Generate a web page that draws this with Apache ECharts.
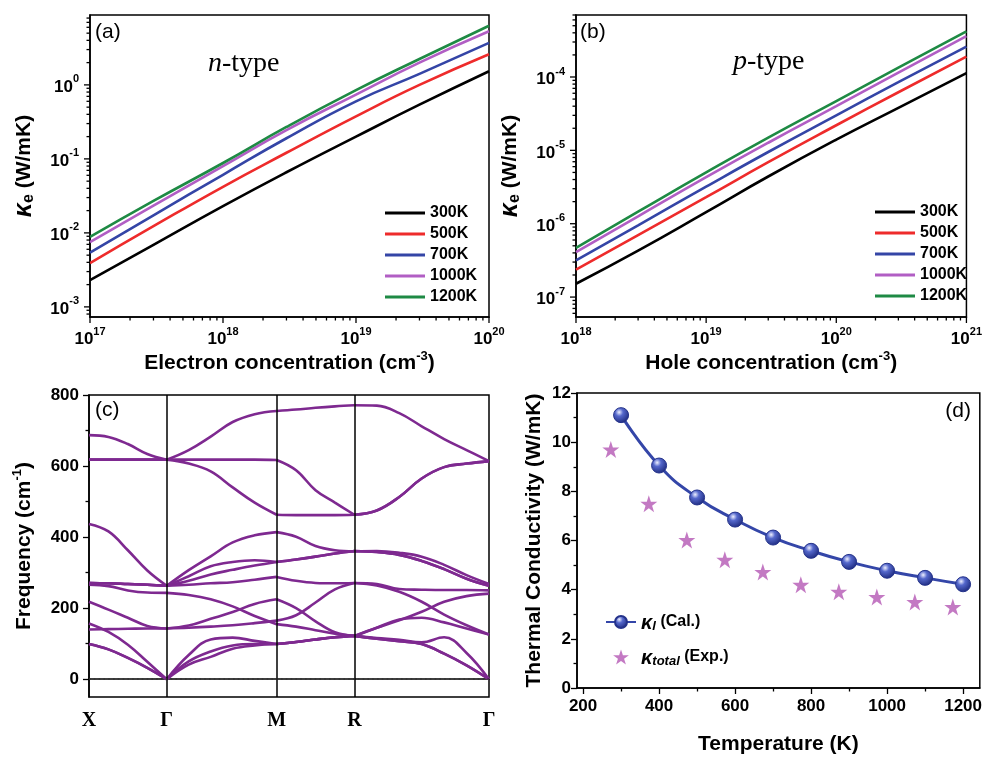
<!DOCTYPE html>
<html>
<head>
<meta charset="utf-8">
<script src="https://cdn.jsdelivr.net/npm/echarts@6.0.0/dist/echarts.min.js"></script>
<style>
html,body{margin:0;padding:0;background:#ffffff;}
#chart{width:985px;height:758px;}
</style>
</head>
<body>
<div id="chart"></div>
<script>
// ================= DATA =================
// Panels (a),(b): electronic thermal conductivity vs carrier concentration
const tempLabels = ['300K', '500K', '700K', '1000K', '1200K'];

const nConc   = [1e17, 3e17, 1e18, 3e18, 1e19, 3e19, 1e20];
const nKe300  = [2.3e-3, 6.9e-3, 0.023, 0.066, 0.20, 0.54, 1.53];
const nKe500  = [3.9e-3, 0.0123, 0.042, 0.121, 0.376, 1.0, 2.6];
const nKe700  = [5.4e-3, 0.0173, 0.061, 0.19, 0.60, 1.41, 3.7];
const nKe1000 = [7.5e-3, 0.0234, 0.080, 0.245, 0.74, 2.0, 5.3];
const nKe1200 = [8.8e-3, 0.027, 0.088, 0.27, 0.85, 2.24, 6.3];

const pConc   = [1e18, 3e18, 1e19, 3e19, 1e20, 3e20, 1e21];
const pKe300  = [1.52e-7, 4.3e-7, 1.44e-6, 4.4e-6, 1.4e-5, 3.8e-5, 1.13e-4];
const pKe500  = [2.36e-7, 7.0e-7, 2.3e-6, 6.9e-6, 2.2e-5, 6.2e-5, 1.9e-4];
const pKe700  = [3.16e-7, 9.5e-7, 3.2e-6, 9.5e-6, 3.0e-5, 8.5e-5, 2.6e-4];
const pKe1000 = [4.1e-7, 1.26e-6, 4.3e-6, 1.27e-5, 4.0e-5, 1.15e-4, 3.6e-4];
const pKe1200 = [4.7e-7, 1.46e-6, 5.0e-6, 1.49e-5, 4.7e-5, 1.34e-4, 4.2e-4];

// Panel (c): phonon dispersion along X-Γ-M-R-Γ
const kLabels = ['X', 'Γ', 'M', 'R', 'Γ'];
const kTicks  = [0, 0.5, 1.2071, 1.7071, 2.5731];
const kPath = [0, 0.125, 0.25, 0.375, 0.5,
               0.6414, 0.7828, 0.9243, 1.0657, 1.2071,
               1.3321, 1.4571, 1.5821, 1.7071,
               1.8514, 1.9958, 2.1401, 2.2845, 2.4288, 2.5731];
const band01 = [687, 682, 662, 634, 618, 645, 683, 724, 746, 755, 759, 764, 768, 771, 770, 749, 712, 676, 645, 614];
const band02 = [618, 618, 618, 618, 618, 618, 618, 618, 618, 617, 588, 532, 497, 463, 475, 513, 565, 597, 607, 614];
const band03 = [618, 618, 618, 618, 618, 607, 585, 540, 497, 463, 462, 462, 462, 463, 475, 513, 565, 597, 607, 614];
const band04 = [437, 416, 363, 306, 263, 307, 346, 385, 405, 414, 401, 375, 363, 360, 361, 356, 345, 322, 293, 268];
const band05 = [271, 270, 268, 266, 263, 290, 318, 330, 335, 330, 337, 345, 354, 361, 358, 350, 333, 310, 283, 263];
const band06 = [271, 270, 268, 266, 263, 277, 295, 308, 320, 330, 337, 345, 354, 361, 358, 350, 333, 310, 283, 263];
const band07 = [266, 262, 250, 244, 243, 237, 225, 205, 178, 155, 148, 138, 128, 122, 145, 166, 190, 218, 234, 241];
const band08 = [271, 270, 268, 266, 263, 266, 270, 273, 280, 288, 277, 271, 270, 271, 268, 254, 252, 251, 251, 250];
const band09 = [218, 196, 173, 150, 143, 151, 170, 189, 212, 225, 200, 163, 132, 121, 145, 168, 173, 160, 143, 126];
const band10 = [140, 141, 142, 143, 143, 145, 148, 152, 158, 165, 180, 216, 253, 271, 264, 246, 218, 182, 152, 126];
const band11 = [157, 133, 97, 49, 0, 68, 112, 117, 108, 99, 105, 112, 118, 122, 116, 111, 104, 118, 74, 0];
const band12 = [99, 84, 60, 32, 0, 50, 78, 95, 99, 99, 105, 112, 118, 122, 114, 107, 99, 72, 39, 0];
const band13 = [99, 84, 60, 32, 0, 41, 63, 86, 95, 99, 105, 112, 118, 122, 114, 107, 99, 72, 39, 0];
const freqLabels = [0, 200, 400, 600, 800];
const freqMinor  = [100, 300, 500, 700];

// Panel (d): thermal conductivity vs temperature
const tempCal  = [300, 400, 500, 600, 700, 800, 900, 1000, 1100, 1200];
const kappaCal = [11.1, 9.05, 7.75, 6.85, 6.12, 5.58, 5.13, 4.77, 4.48, 4.22];
const tempExp  = [273, 373, 473, 573, 673, 773, 873, 973, 1073, 1173];
const kappaExp = [9.7, 7.5, 6.02, 5.22, 4.72, 4.2, 3.92, 3.7, 3.5, 3.3];
const tempTicks = [200, 400, 600, 800, 1000, 1200];
const tempMinor = [300, 500, 700, 900, 1100];

// ================= STYLE / LAYOUT =================
const FONT = '"Liberation Sans", Arial, Helvetica, sans-serif';
const SERIF = '"Liberation Serif", "Times New Roman", serif';
const lineColors = ['#000000', '#EE2B2B', '#3445A6', '#B15EC4', '#1E8A44'];
const bandColor = '#7E2990';

const nXRange = [1e17, 1e20], nYRange = [7.3e-4, 8.8];
const pXRange = [1e18, 1e21], pYRange = [5.35e-8, 7.0e-4];

function decade(lo, hi) {
  const major = [], minor = [];
  for (let e = Math.floor(Math.log10(lo)); e <= Math.ceil(Math.log10(hi)); e++) {
    const b = Math.pow(10, e);
    if (b >= lo * 0.9999 && b <= hi * 1.0001) major.push(b);
    for (let m = 2; m <= 9; m++) { const v = m * b; if (v >= lo && v <= hi) minor.push(v); }
  }
  return { major, minor };
}
function supFmt(v) { return '{b|10}{s|' + Math.round(Math.log10(v)) + '}'; }
const supRich = {
  b: { fontFamily: FONT, fontWeight: 'bold', fontSize: 17, color: '#000', lineHeight: 22, verticalAlign: 'bottom' },
  s: { fontFamily: FONT, fontWeight: 'bold', fontSize: 11, color: '#000', lineHeight: 10, verticalAlign: 'top' }
};
const nameStyle = {
  fontFamily: FONT, fontWeight: 'bold', fontSize: 21, color: '#000', lineHeight: 26,
  rich: {
    s: { fontFamily: FONT, fontWeight: 'bold', fontSize: 13, color: '#000', lineHeight: 12, verticalAlign: 'top' },
    k: { fontFamily: FONT, fontWeight: 'bold', fontStyle: 'italic', fontSize: 25, color: '#000', lineHeight: 26, verticalAlign: 'bottom' },
    e: { fontFamily: FONT, fontWeight: 'bold', fontSize: 16, color: '#000', lineHeight: 12, verticalAlign: 'bottom' }
  }
};
const axLine = { show: true, lineStyle: { color: '#000', width: 1.5 } };
const noSplit = { show: false };
const plainNum = v => String(v);

function logAxis(gi, range, isX, name, gap, hideEnds) {
  const main = {
    gridIndex: gi, type: 'log', logBase: 10, min: range[0], max: range[1],
    position: isX ? 'bottom' : 'left',
    axisLine: axLine, axisTick: { show: false }, splitLine: noSplit,
    axisLabel: { formatter: supFmt, rich: supRich, margin: isX ? 9 : 11, interval: 0,
                 showMinLabel: !hideEnds, showMaxLabel: !hideEnds },
    name: name, nameLocation: 'middle', nameGap: gap, nameTextStyle: nameStyle
  };
  if (!isX) main.nameRotate = 90;
  return main;
}

function tickSeries(xi, yi, xr, yr) {
  const tx = decade(xr[0], xr[1]), ty = decade(yr[0], yr[1]);
  const data = [].concat(
    tx.major.map(v => [v, yr[0], 0]), tx.minor.map(v => [v, yr[0], 1]),
    ty.major.map(v => [xr[0], v, 2]), ty.minor.map(v => [xr[0], v, 3]));
  return {
    type: 'custom', xAxisIndex: xi, yAxisIndex: yi, silent: true, clip: false, z: 6,
    data: data,
    renderItem: function (params, api) {
      const p = api.coord([api.value(0), api.value(1)]);
      const kind = api.value(2);
      const len = (kind === 0 || kind === 2) ? 6 : 3.5;
      const shape = kind < 2 ? { x1: p[0], y1: p[1], x2: p[0], y2: p[1] + len }
                             : { x1: p[0], y1: p[1], x2: p[0] - len, y2: p[1] };
      return { type: 'line', shape: shape, style: { stroke: '#000', lineWidth: 1.3 } };
    }
  };
}

// ================= AXES =================
const grids = [
  { left: 90, top: 15, width: 399, height: 302 },
  { left: 576, top: 15, width: 398, height: 302 },
  { left: 89, top: 395, width: 400, height: 302 },
  { left: 577, top: 393, width: 406, height: 303 }
].map(g => Object.assign({ show: true, borderColor: '#000', borderWidth: 1.5, backgroundColor: 'transparent', containLabel: false }, g));

const xAxes = [
  logAxis(0, nXRange, true, 'Electron concentration (cm{s|-3})', 33, false),
  logAxis(1, pXRange, true, 'Hole concentration (cm{s|-3})', 33, false),
  { gridIndex: 2, type: 'value', min: 0, max: kTicks[4], position: 'bottom',
    axisLine: axLine, axisTick: { show: false }, splitLine: noSplit,
    axisLabel: { customValues: kTicks, margin: 14, color: '#000',
      fontFamily: SERIF, fontWeight: 'bold', fontSize: 20,
      formatter: function (v) {
        let best = 0;
        kTicks.forEach((t, i) => { if (Math.abs(t - v) < Math.abs(kTicks[best] - v)) best = i; });
        return kLabels[best];
      } } },
  { gridIndex: 3, type: 'value', min: 184, max: 1244, position: 'bottom',
    axisLine: axLine, splitLine: noSplit,
    axisTick: { customValues: tempTicks, length: 6, lineStyle: { color: '#000', width: 1.3 } },
    axisLabel: { customValues: tempTicks, formatter: plainNum, margin: 10, color: '#000', fontFamily: FONT, fontWeight: 'bold', fontSize: 17 },
    name: 'Temperature (K)', nameLocation: 'middle', nameGap: 43, nameTextStyle: nameStyle },
  { gridIndex: 3, type: 'value', min: 184, max: 1244, position: 'bottom',
    axisLine: { show: false }, splitLine: noSplit, axisLabel: { show: false },
    axisTick: { customValues: tempMinor, length: 3.5, lineStyle: { color: '#000', width: 1.3 } } }
];
const yAxes = [
  logAxis(0, nYRange, false, '{k|κ}{e|e} (W/mK)', 53, true),
  logAxis(1, pYRange, false, '{k|κ}{e|e} (W/mK)', 53, true),
  { gridIndex: 2, type: 'value', min: -50, max: 800, position: 'left',
    axisLine: axLine, splitLine: noSplit,
    axisTick: { customValues: freqLabels, length: 6, lineStyle: { color: '#000', width: 1.3 } },
    axisLabel: { customValues: freqLabels, formatter: plainNum, margin: 10, color: '#000', fontFamily: FONT, fontWeight: 'bold', fontSize: 17 },
    name: 'Frequency (cm{s|-1})', nameLocation: 'middle', nameRotate: 90, nameGap: 52, nameTextStyle: nameStyle },
  { gridIndex: 2, type: 'value', min: -50, max: 800, position: 'left',
    axisLine: { show: false }, splitLine: noSplit, axisLabel: { show: false },
    axisTick: { customValues: freqMinor, length: 3.5, lineStyle: { color: '#000', width: 1.3 } } },
  { gridIndex: 3, type: 'value', min: 0, max: 12, interval: 2, position: 'left',
    axisLine: axLine, splitLine: noSplit,
    axisTick: { length: 6, lineStyle: { color: '#000', width: 1.3 } },
    minorTick: { show: true, splitNumber: 2, length: 3.5, lineStyle: { color: '#000', width: 1.3 } },
    axisLabel: { formatter: plainNum, margin: 6, color: '#000', fontFamily: FONT, fontWeight: 'bold', fontSize: 17 },
    name: 'Thermal Conductivity (W/mK)', nameLocation: 'middle', nameRotate: 90, nameGap: 30, nameTextStyle: nameStyle }
];

// ================= SERIES =================
const series = [];
[nKe300, nKe500, nKe700, nKe1000, nKe1200].forEach((ys, i) => {
  series.push({ name: tempLabels[i], type: 'line', xAxisIndex: 0, yAxisIndex: 0,
    data: nConc.map((x, j) => [x, ys[j]]), symbol: 'none', smooth: 0.5,
    lineStyle: { color: lineColors[i], width: 2.6 }, itemStyle: { color: lineColors[i] }, z: 3 });
});
[pKe300, pKe500, pKe700, pKe1000, pKe1200].forEach((ys, i) => {
  series.push({ name: tempLabels[i], type: 'line', xAxisIndex: 1, yAxisIndex: 1,
    data: pConc.map((x, j) => [x, ys[j]]), symbol: 'none', smooth: 0.5,
    lineStyle: { color: lineColors[i], width: 2.6 }, itemStyle: { color: lineColors[i] }, z: 3 });
});
series.push(tickSeries(0, 0, nXRange, nYRange));
series.push(tickSeries(1, 1, pXRange, pYRange));

const bands = [band01, band02, band03, band04, band05, band06, band07, band08, band09, band10, band11, band12, band13];
const segBounds = [[0, 4], [4, 9], [9, 13], [13, 19]];
bands.forEach((b, bi) => {
  segBounds.forEach(([s, e], si) => {
    const ser = { type: 'line', xAxisIndex: 2, yAxisIndex: 2, silent: true,
      data: kPath.slice(s, e + 1).map((k, j) => [k, b[s + j]]),
      smooth: 0.4, symbol: 'none', lineStyle: { color: bandColor, width: 2.6 }, z: 3 };
    if (bi === 0 && si === 0) {
      ser.markLine = { silent: true, symbol: ['none', 'none'], label: { show: false }, animation: false,
        data: [
          { xAxis: kTicks[1], lineStyle: { color: '#000', width: 1.5, type: 'solid' } },
          { xAxis: kTicks[2], lineStyle: { color: '#000', width: 1.5, type: 'solid' } },
          { xAxis: kTicks[3], lineStyle: { color: '#000', width: 1.5, type: 'solid' } },
          { yAxis: 0, lineStyle: { color: '#333', width: 1.6, type: [1.6, 3.2] } }
        ] };
    }
    series.push(ser);
  });
});

const STAR = 'path://M50,2 L61.8,37.6 L99,37.6 L69,59.6 L80.4,95 L50,73.2 L19.6,95 L31,59.6 L1,37.6 L38.2,37.6 Z';
series.push({ name: 'kl', type: 'line', xAxisIndex: 3, yAxisIndex: 4,
  data: tempCal.map((t, i) => [t, kappaCal[i]]), smooth: 0.5,
  symbol: 'circle', symbolSize: 15, lineStyle: { color: '#3446A8', width: 3 },
  itemStyle: { color: { type: 'radial', x: 0.38, y: 0.32, r: 0.7,
      colorStops: [{ offset: 0, color: '#EEF0FF' }, { offset: 0.35, color: '#5568CC' }, { offset: 1, color: '#1D2A7E' }] },
    borderColor: '#24328A', borderWidth: 1 }, z: 4 });
series.push({ name: 'kt', type: 'scatter', xAxisIndex: 3, yAxisIndex: 4,
  data: tempExp.map((t, i) => [t, kappaExp[i]]), symbol: STAR, symbolSize: 17,
  itemStyle: { color: '#B458B4' }, z: 4 });

// ================= LEGENDS / TEXT =================
const legText = { fontFamily: FONT, fontWeight: 'bold', fontSize: 16, color: '#000' };
const legends = [
  { left: 380, top: 200, orient: 'vertical', icon: 'rect', itemWidth: 40, itemHeight: 3, itemGap: 5,
    data: tempLabels, textStyle: legText, selectedMode: false },
  { left: 870, top: 199, orient: 'vertical', icon: 'rect', itemWidth: 40, itemHeight: 3, itemGap: 5,
    data: tempLabels, textStyle: legText, selectedMode: false },
  { left: 600, top: 606, orient: 'vertical', itemWidth: 30, itemHeight: 15, itemGap: 13,
    data: ['kl', 'kt'], selectedMode: false,
    formatter: n => n === 'kl' ? '{k|κ}{s|l} (Cal.)' : '{k|κ}{s|total} (Exp.)',
    textStyle: { fontFamily: FONT, fontWeight: 'bold', fontSize: 16, color: '#000', lineHeight: 22,
      rich: {
        k: { fontFamily: FONT, fontWeight: 'bold', fontStyle: 'italic', fontSize: 20, color: '#000', lineHeight: 22, verticalAlign: 'bottom' },
        s: { fontFamily: FONT, fontWeight: 'bold', fontStyle: 'italic', fontSize: 13, color: '#000', lineHeight: 12, verticalAlign: 'bottom' }
      } } }
];

function label(txt, left, top) {
  return { type: 'text', left: left, top: top, z: 10,
    style: { text: txt, fontFamily: FONT, fontSize: 21, fill: '#000' } };
}
function typeLabel(letter, left, top) {
  return { type: 'text', left: left, top: top, z: 10,
    style: { text: '{i|' + letter + '}-type', fontFamily: SERIF, fontSize: 28, fill: '#000',
      rich: { i: { fontFamily: SERIF, fontStyle: 'italic', fontSize: 28, fill: '#000' } } } };
}
const graphics = [
  label('(a)', 95, 22), typeLabel('n', 208, 50),
  label('(b)', 580, 22), typeLabel('p', 733, 48),
  label('(c)', 95, 400),
  { type: 'text', right: 14, top: 401, z: 10, style: { text: '(d)', fontFamily: FONT, fontSize: 21, fill: '#000' } }
];

const chart = echarts.init(document.getElementById('chart'), null, { renderer: 'canvas' });
chart.setOption({
  animation: false,
  backgroundColor: '#ffffff',
  grid: grids,
  xAxis: xAxes,
  yAxis: yAxes,
  legend: legends,
  series: series,
  graphic: graphics
});
</script>
</body>
</html>
